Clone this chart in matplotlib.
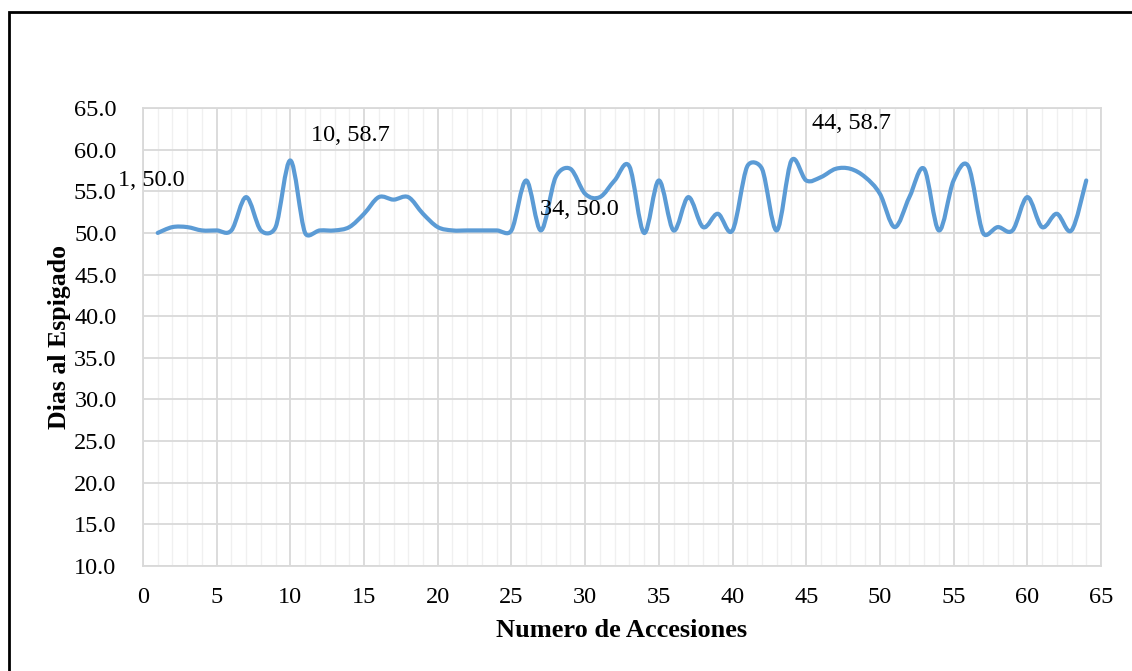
import numpy as np
import matplotlib
matplotlib.use("Agg")
import matplotlib.pyplot as plt
from matplotlib.path import Path
from matplotlib.patches import PathPatch, Rectangle

plt.rcParams['font.family'] = ['Liberation Serif', 'DejaVu Serif']

# datos: dias al espigado por accesion
accesiones = np.arange(1, 65)
dias = [50.0, 50.7, 50.7, 50.3, 50.3, 50.3, 54.3, 50.3, 50.7, 58.7,
        50.0, 50.3, 50.3, 50.7, 52.3, 54.3, 54.0, 54.3, 52.3, 50.7,
        50.3, 50.3, 50.3, 50.3, 50.3, 56.3, 50.3, 56.7, 57.7, 54.7,
        54.3, 56.3, 58.0, 50.0, 56.3, 50.3, 54.3, 50.7, 52.3, 50.3,
        58.0, 57.7, 50.3, 58.7, 56.3, 56.7, 57.7, 57.7, 56.7, 54.7,
        50.7, 54.3, 57.7, 50.3, 56.3, 58.0, 50.0, 50.7, 50.3, 54.3,
        50.7, 52.3, 50.3, 56.3]

# accesiones con etiqueta y desplazamiento del texto (x, y)
etiquetas = [1, 10, 34, 44]
desplaz = [(-0.42, 6.3), (4.1, 3.0), (-4.4, 2.8), (4.1, 4.5)]

azul = '#5B9BD5'

fig = plt.figure(figsize=(11.32, 6.71), dpi=100)
ax = fig.add_axes([0.1263, 0.1565, 0.8463, 0.6825])
ax.set_xlim(0, 65)
ax.set_ylim(10, 65)

# linea suavizada: bezier catmull-rom, con el tirador limitado a medio tramo
x = accesiones.astype(float)
y = np.array(dias)
px = np.concatenate([[x[0]], x, [x[-1]]])
py = np.concatenate([[y[0]], y, [y[-1]]])
sx, sy = 958 / 65, 458 / 55  # pixeles por unidad


def dist(i, j):
    return np.hypot((px[j] - px[i]) * sx, (py[j] - py[i]) * sy)


verts = [(x[0], y[0])]
codes = [Path.MOVETO]
for i in range(1, len(px) - 2):
    d12 = dist(i, i + 1)
    d02, d13 = dist(i - 1, i + 1), dist(i, i + 2)
    f1 = min(1 / 6, d12 / (2 * d02)) if d02 > 0 else 0
    f2 = min(1 / 6, d12 / (2 * d13)) if d13 > 0 else 0
    c1 = (px[i] + (px[i + 1] - px[i - 1]) * f1, py[i] + (py[i + 1] - py[i - 1]) * f1)
    c2 = (px[i + 1] - (px[i + 2] - px[i]) * f2, py[i + 1] - (py[i + 2] - py[i]) * f2)
    verts += [c1, c2, (px[i + 1], py[i + 1])]
    codes += [Path.CURVE4] * 3
ax.add_patch(PathPatch(Path(verts, codes), fill=False, edgecolor=azul,
                       lw=3.0, capstyle='round', joinstyle='round', zorder=3))

for k, (dx, dy) in zip(etiquetas, desplaz):
    v = dias[k - 1]
    ax.text(k + dx, v + dy, f'{k}, {v:.1f}', ha='center', va='center',
            fontsize=17.5, color='black', zorder=4)

ax.set_xticks(np.arange(0, 66, 5))
ax.set_xticks(np.arange(0, 66, 1), minor=True)
ax.set_yticks(np.arange(10, 66, 5))
ax.set_yticklabels([f'{v:.1f}' for v in np.arange(10, 66, 5)])
ax.grid(which='minor', axis='x', color='#F0F0F0', lw=1.0, zorder=0)
ax.grid(which='major', axis='both', color='#D9D9D9', lw=1.3, zorder=1)
ax.tick_params(which='both', length=0, labelsize=17.5)
ax.tick_params(axis='x', pad=15)
ax.tick_params(axis='y', pad=19)
for s in ax.spines.values():
    s.set_color('#D9D9D9')
    s.set_linewidth(1.3)

ax.set_xlabel('Numero de Accesiones', fontsize=19, fontweight='bold', labelpad=8)
ax.set_ylabel('Dias al Espigado', fontsize=18.5, fontweight='bold', labelpad=2)

# marco negro
fig.add_artist(Rectangle((8.5 / 1132, -0.1), 1.2, 1.1 - 12 / 671, transform=fig.transFigure,
                         fill=False, edgecolor='black', lw=2.0, clip_on=False))

fig.savefig('out.png', dpi=100)
